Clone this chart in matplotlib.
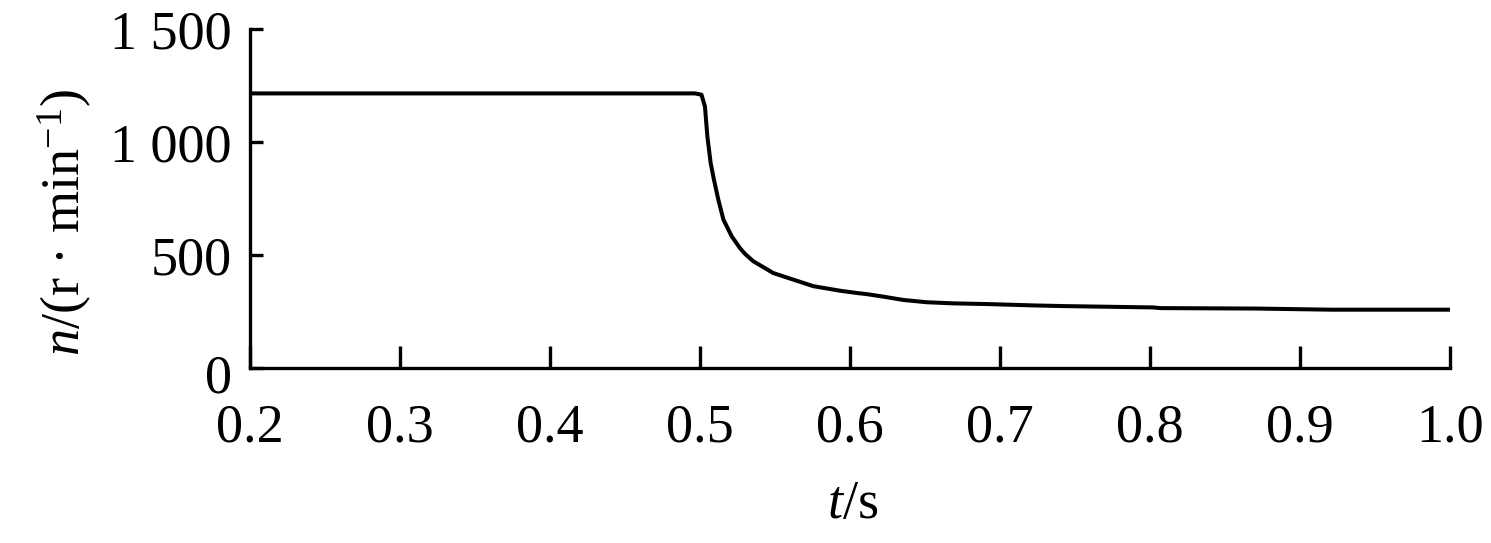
import matplotlib
matplotlib.use('Agg')
import matplotlib.pyplot as plt
import matplotlib.transforms as mtransforms

# speed curve
t = [0.2, 0.4967, 0.501, 0.5033, 0.5049, 0.5071, 0.5093, 0.5122, 0.5156, 0.5211,
     0.5267, 0.5300, 0.5356, 0.5489, 0.5622, 0.5756, 0.5933, 0.6044, 0.611, 0.622,
     0.6356, 0.651, 0.6689, 0.691, 0.722, 0.742, 0.802, 0.807, 0.871, 0.921, 1.0]
n = [1215, 1215, 1209, 1157, 1025, 907, 833, 745, 657, 583,
     530, 505, 472, 420, 391, 362, 342, 332, 327, 316,
     301, 291, 286, 283, 277, 274, 268, 265, 263, 258, 258]

xticks = [0.2, 0.3, 0.4, 0.5, 0.6, 0.7, 0.8, 0.9, 1.0]
xticklabels = ['0.2', '0.3', '0.4', '0.5', '0.6', '0.7', '0.8', '0.9', '1.0']
yticks = [0, 500, 1000, 1500]
yticklabels = ['0', '500', '1 000', '1 500']

plt.rcParams['font.family'] = 'Liberation Serif'
plt.rcParams['mathtext.fontset'] = 'custom'
plt.rcParams['mathtext.rm'] = 'Liberation Serif'
plt.rcParams['mathtext.it'] = 'Liberation Serif:italic'

fig = plt.figure(figsize=(14.91, 5.43), dpi=100)
ax = fig.add_axes([250/1491, 1-368/543, 1200/1491, 339/543])

ax.plot(t, n, color='black', lw=2.9)

ax.set_xlim(0.2, 1.0)
ax.set_ylim(0, 1500)
ax.spines['top'].set_visible(False)
ax.spines['right'].set_visible(False)
for s in ['left', 'bottom']:
    ax.spines[s].set_linewidth(2.4)

ax.set_xticks(xticks)
ax.set_xticklabels(xticklabels)
ax.set_yticks(yticks)
ax.set_yticklabels(yticklabels)
ax.tick_params(axis='x', direction='in', length=16, width=2.4, labelsize=39, pad=25)
ax.tick_params(axis='y', direction='in', length=9, width=2.4, labelsize=39, pad=13)

# the "0" on the y axis sits a little lower
lab0 = ax.get_yticklabels()[0]
lab0.set_transform(lab0.get_transform() + mtransforms.ScaledTranslation(0, -4/72, fig.dpi_scale_trans))

fig.text(65/1491, 1-222/543, r'$n$/(r · min$^{-1}$)', rotation=90,
         ha='center', va='center', fontsize=39)
fig.text(853/1491, 1-505/543, r'$t$/s', ha='center', va='center', fontsize=39)

fig.savefig('out.png', dpi=100)
